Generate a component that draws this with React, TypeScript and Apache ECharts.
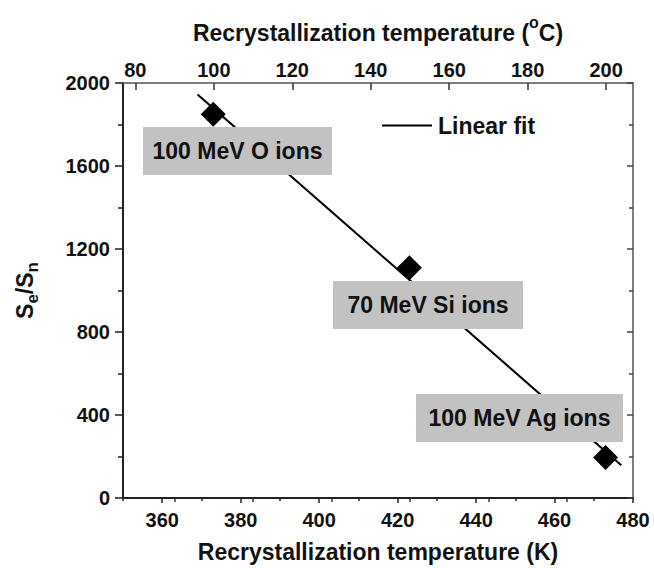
import React, { useEffect, useRef } from "react";
import * as echarts from "echarts";

// ---- data ----
const tempK = [373, 423, 473];
const ratio = [1850, 1110, 195];
const ionLabels = ["100 MeV O ions", "70 MeV Si ions", "100 MeV Ag ions"];
const fitK = [369, 477];
const fitRatio = [1945, 158];
const kLabels = [360, 380, 400, 420, 440, 460, 480];
const kMinorTicks = [350, 370, 390, 410, 430, 450, 470];
const cLabels = [80, 100, 120, 140, 160, 180, 200];
const cMinorTicks = [90, 110, 130, 150, 170, 190];
const kMin = 350;
const kMax = 480;
const kelvinOffset = 273.15;

const FONT = '"Liberation Sans", Arial, Helvetica, sans-serif';
const INK = "#111";

const labelStyle = { fontSize: 20, fontWeight: "bold" as const, color: INK, fontFamily: FONT };
const nameStyle = { fontSize: 23, fontWeight: "bold" as const, color: INK, fontFamily: FONT };

const boxes = [
  { x: 143, y: 127, w: 189, h: 48 },
  { x: 333, y: 281, w: 190, h: 48 },
  { x: 416, y: 394, w: 207, h: 48 },
];

export default function App() {
  const ref = useRef<HTMLDivElement>(null);
  useEffect(() => {
    document.body.style.margin = "0";
    const chart = echarts.init(ref.current!, null, { renderer: "svg" });
    const graphics: any[] = [];
    boxes.forEach((b, i) => {
      graphics.push({
        type: "rect",
        z: 100,
        shape: { x: b.x, y: b.y, width: b.w, height: b.h },
        style: { fill: "#c2c2c2" },
      });
      graphics.push({
        type: "text",
        z: 101,
        x: b.x + b.w / 2,
        y: b.y + b.h / 2,
        style: {
          text: ionLabels[i],
          fontSize: 23,
          fontWeight: "bold",
          fontFamily: FONT,
          fill: INK,
          align: "center",
          verticalAlign: "middle",
        },
      });
    });
    const option: any = {
      animation: false,
      backgroundColor: "#fff",
      grid: { left: 123, right: 21, top: 83, bottom: 70, containLabel: false, outerBoundsMode: "none" },
      legend: {
        data: [{ name: "Linear fit", icon: "rect" }],
        left: 377,
        top: 109,
        itemWidth: 50,
        itemHeight: 2,
        textStyle: { ...nameStyle, padding: [0, 0, 0, 1] },
      },
      xAxis: [
        {
          type: "value",
          position: "bottom",
          min: kMin,
          max: kMax,
          axisLine: { show: true, onZero: false, lineStyle: { color: "#222", width: 2 } },
          axisTick: { show: true, customValues: kLabels, length: 5, lineStyle: { color: "#222", width: 1.5 } },
          axisLabel: { show: true, customValues: kLabels, margin: 12, ...labelStyle },
          splitLine: { show: false },
          name: "Recrystallization temperature (K)",
          nameLocation: "middle",
          nameGap: 42,
          nameTextStyle: nameStyle,
        },
        {
          type: "value",
          position: "bottom",
          min: kMin,
          max: kMax,
          axisLine: { show: false },
          axisTick: { show: true, customValues: kMinorTicks, length: 3, lineStyle: { color: "#222", width: 1.5 } },
          axisLabel: { show: false },
          splitLine: { show: false },
        },
        {
          type: "value",
          position: "top",
          min: kMin - kelvinOffset,
          max: kMax - kelvinOffset,
          axisLine: { show: true, onZero: false, lineStyle: { color: "#555", width: 1.5 } },
          axisTick: { show: true, inside: true, customValues: cLabels, length: 7, lineStyle: { color: "#333", width: 1.5 } },
          axisLabel: { show: true, customValues: cLabels, margin: 3, ...labelStyle },
          splitLine: { show: false },
          name: "{t|Recrystallization temperature (}{sup|o}{t|C)}",
          nameLocation: "middle",
          nameGap: 31,
          nameTextStyle: {
            ...nameStyle,
            rich: {
              t: { ...nameStyle, lineHeight: 38 },
              sup: { fontSize: 16, fontWeight: "bold", fontFamily: FONT, color: INK, lineHeight: 16, verticalAlign: "top" },
            },
          },
        },
        {
          type: "value",
          position: "top",
          min: kMin - kelvinOffset,
          max: kMax - kelvinOffset,
          axisLine: { show: false },
          axisTick: { show: true, inside: true, customValues: cMinorTicks, length: 4, lineStyle: { color: "#333", width: 1.5 } },
          axisLabel: { show: false },
          splitLine: { show: false },
        },
      ],
      yAxis: [
        {
          type: "value",
          position: "left",
          min: 0,
          max: 2000,
          interval: 400,
          axisLine: { show: true, onZero: false, lineStyle: { color: "#222", width: 2 } },
          axisTick: { show: true, length: 8, lineStyle: { color: "#222", width: 1.5 } },
          minorTick: { show: true, splitNumber: 2, length: 5, lineStyle: { color: "#222", width: 1.5 } },
          axisLabel: { show: true, margin: 13, formatter: (v: number) => String(v), ...labelStyle },
          splitLine: { show: false },
          minorSplitLine: { show: false },
          name: "{s|S}{b|e}{s|/S}{b|n}",
          nameLocation: "middle",
          nameGap: 82,
          nameRotate: 90,
          nameTextStyle: {
            ...nameStyle,
            rich: {
              s: { ...nameStyle, lineHeight: 32 },
              b: { fontSize: 17, fontWeight: "bold", fontFamily: FONT, color: INK, lineHeight: 17, verticalAlign: "bottom" },
            },
          },
        },
        {
          type: "value",
          position: "right",
          min: 0,
          max: 2000,
          interval: 400,
          axisLine: { show: true, onZero: false, lineStyle: { color: "#555", width: 1.5 } },
          axisTick: { show: true, inside: true, length: 6, lineStyle: { color: "#444", width: 1.5 } },
          minorTick: { show: true, splitNumber: 2, length: 4, lineStyle: { color: "#444", width: 1.5 } },
          axisLabel: { show: false },
          splitLine: { show: false },
          minorSplitLine: { show: false },
        },
      ],
      series: [
        {
          name: "Linear fit",
          type: "line",
          xAxisIndex: 0,
          yAxisIndex: 0,
          data: fitK.map((k, i) => [k, fitRatio[i]]),
          symbol: "none",
          lineStyle: { color: "#000", width: 2 },
          itemStyle: { color: "#000" },
          z: 2,
        },
        {
          name: "Data",
          type: "scatter",
          xAxisIndex: 0,
          yAxisIndex: 0,
          data: tempK.map((k, i) => [k, ratio[i]]),
          symbol: "diamond",
          symbolSize: 25,
          itemStyle: { color: "#000", opacity: 1 },
          z: 3,
        },
      ],
      graphic: graphics,
    };
    chart.setOption(option);
    return () => chart.dispose();
  }, []);
  return <div ref={ref} style={{ width: 654, height: 568 }} />;
}
